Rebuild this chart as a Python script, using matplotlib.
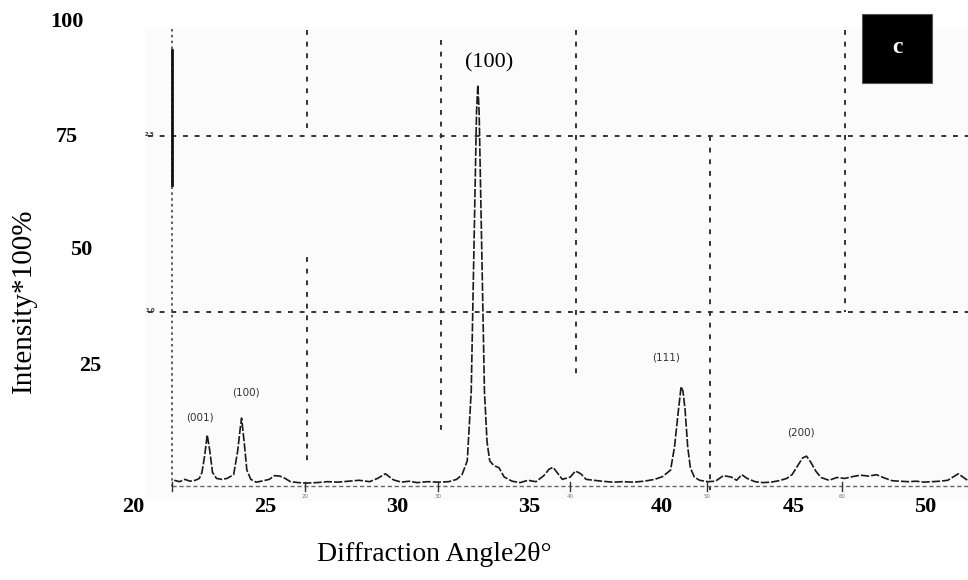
import matplotlib
matplotlib.use("Agg")
import matplotlib.pyplot as plt
from matplotlib.patches import Rectangle

# ---------------- data ----------------
two_theta = [21.6, 21.8, 22.0, 22.2, 22.4, 22.55, 22.65, 22.75, 22.85, 22.95, 23.05, 23.2, 23.4,
             23.6, 23.85, 24.0, 24.1, 24.15, 24.25, 24.35, 24.5, 24.7, 24.9, 25.2, 25.4, 25.6,
             25.8, 26.0, 26.3, 26.6, 27.0, 27.4, 27.8, 28.2, 28.6, 29.0, 29.3, 29.6, 29.9, 30.2,
             30.5, 30.8, 31.2, 31.6, 32.0, 32.3, 32.5, 32.7, 32.85, 32.95, 33.05, 33.1, 33.15,
             33.25, 33.35, 33.45, 33.55, 33.7, 33.9, 34.1, 34.4, 34.7, 35.0, 35.3, 35.6, 35.8,
             35.95, 36.1, 36.3, 36.6, 36.8, 37.0, 37.2, 37.5, 37.8, 38.2, 38.6, 39.0, 39.4, 39.8,
             40.1, 40.4, 40.55, 40.7, 40.8, 40.87, 40.95, 41.05, 41.15, 41.3, 41.5, 41.8, 42.1,
             42.4, 42.7, 42.9, 43.1, 43.3, 43.6, 43.9, 44.2, 44.5, 44.8, 45.0, 45.2, 45.4, 45.55,
             45.7, 45.9, 46.1, 46.4, 46.7, 47.0, 47.3, 47.6, 47.9, 48.2, 48.5, 48.8, 49.1, 49.4,
             49.7, 50.0, 50.3, 50.6, 50.9, 51.1, 51.3, 51.5, 51.65]
intensity = [0.8, 0.5, 1.0, 0.6, 0.8, 1.2, 2.5, 6.0, 10.6, 7.0, 2.5, 1.2, 1.0,
             1.2, 2.0, 7.0, 12.0, 14.2, 9.0, 3.0, 1.0, 0.4, 0.6, 1.0, 1.8, 1.7,
             1.2, 0.5, 0.3, 0.2, 0.3, 0.5, 0.4, 0.6, 0.8, 0.5, 1.2, 2.2, 0.9, 0.4,
             0.6, 0.3, 0.5, 0.4, 0.5, 1.0, 2.0, 5.0, 20.0, 50.0, 80.0, 86.0, 80.0,
             50.0, 20.0, 9.0, 5.0, 4.0, 3.5, 1.5, 0.6, 0.3, 0.8, 0.5, 1.8, 3.2,
             3.6, 2.5, 1.0, 1.5, 2.8, 2.2, 1.0, 0.8, 0.6, 0.4, 0.5, 0.4, 0.6, 1.0,
             1.6, 3.0, 8.0, 16.0, 21.0, 20.0, 16.0, 8.0, 3.5, 1.5, 0.8, 0.5, 0.6,
             1.8, 1.5, 0.8, 2.0, 1.2, 0.5, 0.3, 0.4, 0.7, 1.2, 2.0, 3.8, 5.6, 6.0,
             4.8, 2.8, 1.4, 0.8, 1.4, 1.2, 1.6, 1.9, 1.7, 2.0, 1.3, 0.7, 0.6, 0.5,
             0.6, 0.4, 0.5, 0.6, 0.8, 1.5, 2.2, 1.4, 0.8]

x_tick_values = [20, 25, 30, 35, 40, 45, 50]
y_tick_values = [100, 75, 50, 25]
peak_labels = ["(001)", "(100)", "(111)", "(200)"]
main_peak_label = "(100)"
inner_tick_labels = ["20", "30", "40", "50", "60"]

# ---------------- figure ----------------
fig = plt.figure(figsize=(9.68, 5.8), dpi=100)
ax = fig.add_axes([0, 0, 1, 1])
ax.set_xlim(15.0, 51.667)
ax.set_ylim(-20.69, 104.31)
ax.axis("off")

# scanned plot area background
ax.add_patch(Rectangle((20.49, -3.45), 51.67 - 20.49, 98.3 + 3.45,
                       facecolor="#fbfbfb", edgecolor="none", zorder=0))

grid_kw = dict(color="#333333", lw=1.4, dashes=(2.5, 3.5), zorder=1)
# horizontal dashed grid lines
ax.plot([20.6, 51.67], [75, 75], **grid_kw)
ax.plot([20.6, 51.67], [37, 37], **grid_kw)
# vertical dashed grid lines (broken as in the scan)
ax.plot([26.63, 26.63], [97.8, 76.7], **grid_kw)
ax.plot([26.63, 26.63], [48.9, 4.1], **grid_kw)
ax.plot([31.70, 31.70], [95.7, 11.6], **grid_kw)
ax.plot([36.82, 36.82], [97.8, 22.4], **grid_kw)
ax.plot([41.89, 41.89], [75.0, -1.3], **grid_kw)
ax.plot([47.00, 47.00], [97.8, 37.0], **grid_kw)

# inner axis line of the scanned chart
ax.plot([21.52, 21.52], [98.0, -0.7], color="#444444", lw=1.2, dashes=(1.5, 2.0), zorder=2)
ax.plot([21.52, 21.52], [93.5, 64.4], color="#111111", lw=2.0, zorder=2)
# baseline
ax.plot([21.52, 51.67], [-0.5, -0.5], color="#666666", lw=1.0, dashes=(3, 2), zorder=2)
for xt in [21.52, 26.55, 31.59, 36.59, 41.78, 46.89]:
    ax.plot([xt, xt], [0.5, -1.6], color="#333333", lw=1.0, zorder=2)
for xt, lab in zip([26.55, 31.59, 36.59, 41.78, 46.89], inner_tick_labels):
    ax.text(xt, -2.6, lab, fontsize=4, color="#777777", ha="center", va="center")
ax.text(20.68, 75.3, "2.5", fontsize=4, color="#333333", ha="center", va="center", weight="bold")
ax.text(20.68, 37.3, "1.0", fontsize=4, color="#333333", ha="center", va="center", weight="bold")

# spectrum
ax.plot(two_theta, intensity, color="#1a1a1a", lw=1.2, dashes=(5, 1.2), zorder=3)

# peak labels
serif = "Liberation Serif"
ax.text(33.52, 90.7, main_peak_label, family=serif, fontsize=16, ha="center", va="center")
small_kw = dict(family="DejaVu Sans", fontsize=7.5, color="#333333", ha="center", va="center")
ax.text(22.58, 14.4, peak_labels[0], **small_kw)
ax.text(24.32, 19.8, peak_labels[1], **small_kw)
ax.text(40.23, 27.2, peak_labels[2], **small_kw)
ax.text(45.34, 11.0, peak_labels[3], **small_kw)

# panel label box
ax.add_patch(Rectangle((47.65, 86.4), 50.30 - 47.65, 101.3 - 86.4,
                       facecolor="black", edgecolor="#555555", lw=0.8, zorder=4))
ax.text(48.98, 94.0, "c", family=serif, weight="bold", fontsize=17, color="white",
        ha="center", va="center", zorder=5)

# tick labels (placed as in the original)
for v in x_tick_values:
    ax.text(v + 0.05, -5.0, str(v), family=serif, weight="bold", fontsize=16, ha="center", va="center")
y_label_x = [17.54, 17.54, 18.07, 18.41]
y_label_y = [99.6, 74.7, 50.4, 25.5]
for v, xx, yy in zip(y_tick_values, y_label_x, y_label_y):
    ax.text(xx, yy, str(v), family=serif, weight="bold", fontsize=16, ha="center", va="center")

# axis titles
ax.text(31.44, -15.2, "Diffraction Angle2θ°", family=serif, fontsize=20, ha="center", va="center")
ax.text(15.91, 39.5, "Intensity*100%", family=serif, fontsize=21, rotation=90,
        ha="center", va="center")

fig.savefig("out.png", dpi=100)
